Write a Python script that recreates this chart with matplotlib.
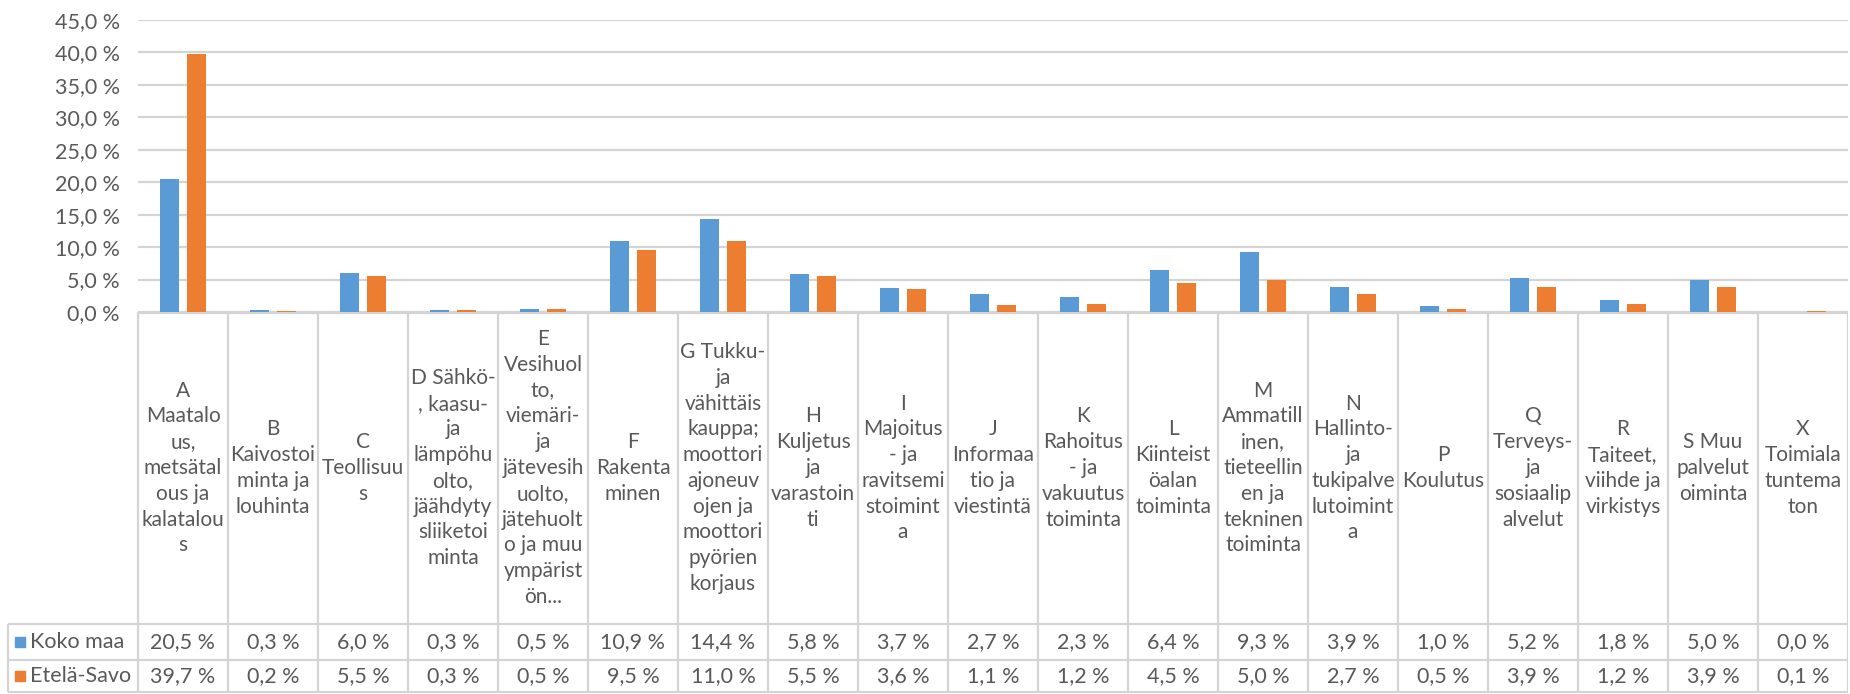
import matplotlib
matplotlib.use("Agg")
from matplotlib import pyplot as plt
from matplotlib.ticker import FuncFormatter

plt.rcParams['font.family'] = ['Lato', 'DejaVu Sans']

categories = [
    "A\nMaatalo\nus,\nmetsätal\nous ja\nkalatalou\ns",
    "B\nKaivostoi\nminta ja\nlouhinta",
    "C\nTeollisuu\ns",
    "D Sähkö-\n, kaasu-\nja\nlämpöhu\nolto,\njäähdyty\nsliiketoi\nminta",
    "E\nVesihuol\nto,\nviemäri-\nja\njätevesih\nuolto,\njätehuolt\no ja muu\nympärist\nön...",
    "F\nRakenta\nminen",
    "G Tukku-\nja\nvähittäis\nkauppa;\nmoottori\najoneuv\nojen ja\nmoottori\npyörien\nkorjaus",
    "H\nKuljetus\nja\nvarastoin\nti",
    "I\nMajoitus\n- ja\nravitsemi\nstoimint\na",
    "J\nInformaa\ntio ja\nviestintä",
    "K\nRahoitus\n- ja\nvakuutus\ntoiminta",
    "L\nKiinteist\nöalan\ntoiminta",
    "M\nAmmatill\ninen,\ntieteellin\nen ja\ntekninen\ntoiminta",
    "N\nHallinto-\nja\ntukipalve\nlutoimint\na",
    "P\nKoulutus",
    "Q\nTerveys-\nja\nsosiaalip\nalvelut",
    "R\nTaiteet,\nviihde ja\nvirkistys",
    "S Muu\npalvelut\noiminta",
    "X\nToimiala\ntuntema\nton",
]
series_names = ["Koko maa", "Etelä-Savo"]
koko_maa = [20.5, 0.3, 6.0, 0.3, 0.5, 10.9, 14.4, 5.8, 3.7, 2.7, 2.3, 6.4, 9.3, 3.9, 1.0, 5.2, 1.8, 5.0, 0.0]
etela_savo = [39.7, 0.2, 5.5, 0.3, 0.5, 9.5, 11.0, 5.5, 3.6, 1.1, 1.2, 4.5, 5.0, 2.7, 0.5, 3.9, 1.2, 3.9, 0.1]

colors = ["#5B9BD5", "#ED7D31"]
text_col = "#595959"
grid_col = "#D4D4D4"
fs = 15

W, H = 1850, 694
fig = plt.figure(figsize=(W / 100, H / 100), dpi=100)

# pixel layout
left_px, right_px, top_px, zero_px = 138, 1848, 20, 312
col_w = (right_px - left_px) / len(categories)

# ---- bar chart ----
ax = fig.add_axes([left_px / W, 1 - zero_px / H, (right_px - left_px) / W, (zero_px - top_px) / H])
n = len(categories)
xs = list(range(n))
bw = 0.22
off = 0.15
ax.bar([x - off for x in xs], [v / 100 for v in koko_maa], width=bw, color=colors[0], zorder=3)
ax.bar([x + off for x in xs], [v / 100 for v in etela_savo], width=bw, color=colors[1], zorder=3)
ax.set_xlim(-0.5, n - 0.5)
ax.set_ylim(0, 0.45)
ax.set_yticks([i * 0.05 for i in range(10)])
ax.yaxis.set_major_formatter(FuncFormatter(lambda v, p: f"{v*100:.1f} %".replace(".", ",")))
ax.tick_params(axis='y', length=0, pad=13, labelsize=fs + 0.5, labelcolor=text_col)
ax.set_xticks([])
ax.grid(axis='y', color=grid_col, linewidth=1.6, zorder=0)
for s in ax.spines.values():
    s.set_visible(False)

# ---- data table ----
tb = fig.add_axes([0, 0, right_px / W, 1 - zero_px / H])
tb.set_xlim(-0.5 - left_px / col_w, n - 0.5)
tb.set_ylim(H, zero_px)
tb.axis('off')

row1, row2, bottom = 624, 660, 692
label_left = -0.5 - (left_px - 8) / col_w
line_kw = dict(color=grid_col, linewidth=1.6)

tb.hlines(zero_px + 1, -0.5, n - 0.5, **line_kw)
tb.hlines([row1, row2, bottom], label_left, n - 0.5, **line_kw)
tb.vlines([i - 0.5 for i in range(n + 1)], zero_px, bottom, **line_kw)
tb.vlines(label_left, row1, bottom, **line_kw)

for i, lab in enumerate(categories):
    tb.text(i, (zero_px + row1) / 2, lab, ha='center', va='center', fontsize=fs,
            color=text_col, linespacing=1.36)
    tb.text(i, (row1 + row2) / 2, f"{koko_maa[i]:.1f} %".replace(".", ","), ha='center',
            va='center', fontsize=fs + 0.5, color=text_col)
    tb.text(i, (row2 + bottom) / 2, f"{etela_savo[i]:.1f} %".replace(".", ","), ha='center',
            va='center', fontsize=fs + 0.5, color=text_col)

for name, col, (y0, y1) in zip(series_names, colors, [(row1, row2), (row2, bottom)]):
    ym = (y0 + y1) / 2
    tb.plot([label_left + 12 / col_w], [ym], marker='s', markersize=7, color=col, linestyle='none')
    tb.text(label_left + 22 / col_w, ym, name, ha='left', va='center', fontsize=fs + 0.5, color=text_col)

fig.savefig("out.png", dpi=100, facecolor="white")
